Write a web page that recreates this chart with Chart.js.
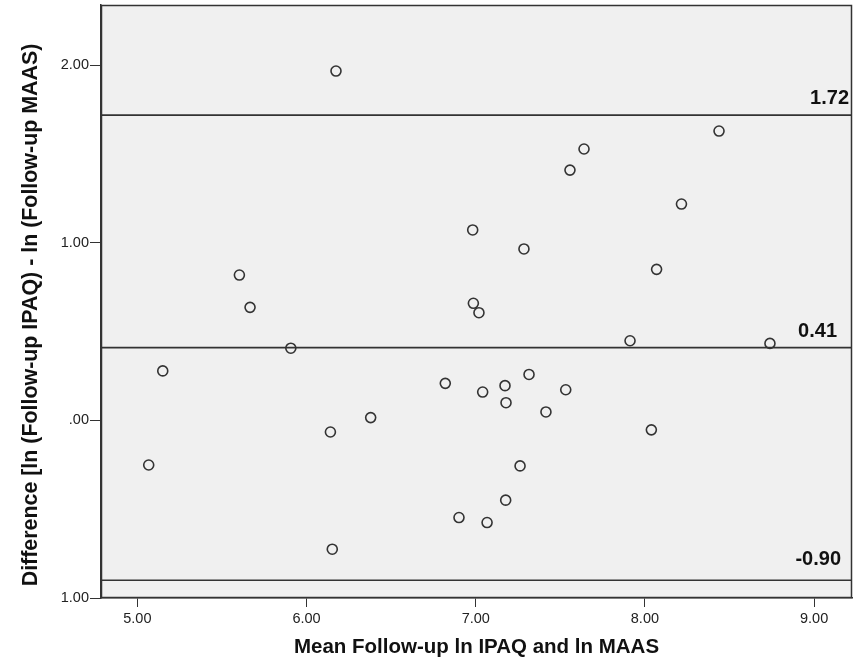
<!DOCTYPE html>
<html>
<head>
<meta charset="utf-8">
<script src="https://cdn.jsdelivr.net/npm/chart.js@4.4.1/dist/chart.umd.min.js"></script>
<style>
  html, body { margin: 0; padding: 0; background: #fff; }
  canvas { display: block; }
</style>
</head>
<body>
<canvas id="grafico" width="858" height="661"></canvas>
<script>
// medias (eje x) y diferencias (eje y)
const medias = [6.174, 8.438, 7.640, 7.557, 8.216, 6.982, 7.285, 8.069, 5.603, 5.666,
                6.986, 7.019, 5.907, 7.912, 8.739, 5.150, 6.820, 7.315, 7.173, 7.041,
                7.532, 7.179, 7.415, 6.379, 6.141, 8.038, 5.067, 7.262, 7.177, 6.901,
                7.067, 6.152];
const diferencias = [1.968, 1.630, 1.529, 1.410, 1.219, 1.073, 0.966, 0.851, 0.819, 0.637,
                     0.660, 0.607, 0.407, 0.449, 0.434, 0.279, 0.209, 0.259, 0.196, 0.160,
                     0.173, 0.100, 0.048, 0.016, -0.065, -0.053, -0.251, -0.256, -0.449, -0.547,
                     -0.575, -0.725];
// limite superior, media, limite inferior
const lineasAcuerdo = [1.72, 0.41, -0.90];
const etiquetasLineas = ['1.72', '0.41', '-0.90'];
const ticksX = [5, 6, 7, 8, 9];
const etiquetasX = ['5.00', '6.00', '7.00', '8.00', '9.00'];
const ticksY = [-1, 0, 1, 2];
const etiquetasY = ['1.00', '.00', '1.00', '2.00'];
const tituloY = 'Difference [ln (Follow-up IPAQ) - ln (Follow-up MAAS)';

const xMin = 4.785, xMax = 9.224;
const yMin = -1.0, yMax = 2.34;
const fuente = '"Liberation Sans", Arial, sans-serif';
const gris = '#333';

const puntos = medias.map((m, i) => ({ x: m, y: diferencias[i] }));

const lineas = lineasAcuerdo.map(v => ({
    type: 'line',
    data: [{ x: xMin, y: v }, { x: xMax, y: v }],
    borderColor: gris,
    borderWidth: 1.6,
    pointRadius: 0,
    fill: false,
    order: 2
}));

const fondoYMarco = {
    id: 'fondoYMarco',
    beforeDraw(chart) {
        const { ctx, chartArea: a } = chart;
        ctx.save();
        ctx.fillStyle = '#fff';
        ctx.fillRect(0, 0, chart.width, chart.height);
        ctx.fillStyle = '#f0f0f0';
        ctx.fillRect(a.left, a.top, a.right - a.left, a.bottom - a.top);
        ctx.restore();
    },
    afterDraw(chart) {
        const { ctx, chartArea: a } = chart;
        const y = chart.scales.y;
        ctx.save();
        ctx.strokeStyle = gris;
        ctx.lineWidth = 1.5;
        ctx.strokeRect(a.left + 0.5, a.top + 0.5, a.right - a.left - 1, a.bottom - a.top - 1);
        // etiquetas de las lineas
        const derecha = [849, 837, 841];
        const subir = [11, 11, 15];
        ctx.fillStyle = '#111';
        ctx.font = 'bold 20px ' + fuente;
        ctx.textAlign = 'right';
        ctx.textBaseline = 'alphabetic';
        lineasAcuerdo.forEach((v, i) => {
            ctx.fillText(etiquetasLineas[i], derecha[i], y.getPixelForValue(v) - subir[i]);
        });
        // titulo eje y
        ctx.translate(31, 315);
        ctx.rotate(-Math.PI / 2);
        ctx.textAlign = 'center';
        ctx.textBaseline = 'middle';
        ctx.font = 'bold 21.4px ' + fuente;
        ctx.fillText(tituloY, 0, 0);
        ctx.restore();
    }
};

new Chart(document.getElementById('grafico'), {
    type: 'scatter',
    data: {
        datasets: [{
            data: puntos,
            pointRadius: 5,
            pointBorderWidth: 1.6,
            pointBorderColor: gris,
            pointBackgroundColor: 'rgba(0,0,0,0)',
            order: 1
        }, ...lineas]
    },
    options: {
        responsive: false,
        animation: false,
        devicePixelRatio: 1,
        layout: { autoPadding: false, padding: { top: 5, right: 6, left: 0, bottom: 0 } },
        plugins: {
            legend: { display: false },
            tooltip: { enabled: false }
        },
        scales: {
            x: {
                type: 'linear',
                min: xMin,
                max: xMax,
                afterBuildTicks: s => { s.ticks = ticksX.map(v => ({ value: v })); },
                afterFit: s => { s.height = 63; s.paddingLeft = 0; s.paddingRight = 0; },
                grid: { drawOnChartArea: false, tickLength: 9, color: gris },
                border: { color: gris, width: 1.5 },
                ticks: {
                    padding: 3,
                    color: '#222',
                    font: { family: fuente, size: 14.5 },
                    callback: v => etiquetasX[ticksX.indexOf(v)]
                },
                title: {
                    display: true,
                    text: 'Mean Follow-up ln IPAQ and ln MAAS',
                    color: '#111',
                    font: { family: fuente, size: 20.5, weight: 'bold' },
                    padding: { top: 0, bottom: 1 }
                }
            },
            y: {
                type: 'linear',
                min: yMin,
                max: yMax,
                afterBuildTicks: s => { s.ticks = ticksY.map(v => ({ value: v })); },
                afterFit: s => { s.width = 101; s.paddingTop = 0; s.paddingBottom = 0; },
                grid: { drawOnChartArea: false, tickLength: 11, color: gris },
                border: { color: gris, width: 1.5 },
                ticks: {
                    padding: 1,
                    color: '#222',
                    font: { family: fuente, size: 14.5 },
                    callback: v => etiquetasY[ticksY.indexOf(v)]
                }
            }
        }
    },
    plugins: [fondoYMarco]
});
</script>
</body>
</html>
